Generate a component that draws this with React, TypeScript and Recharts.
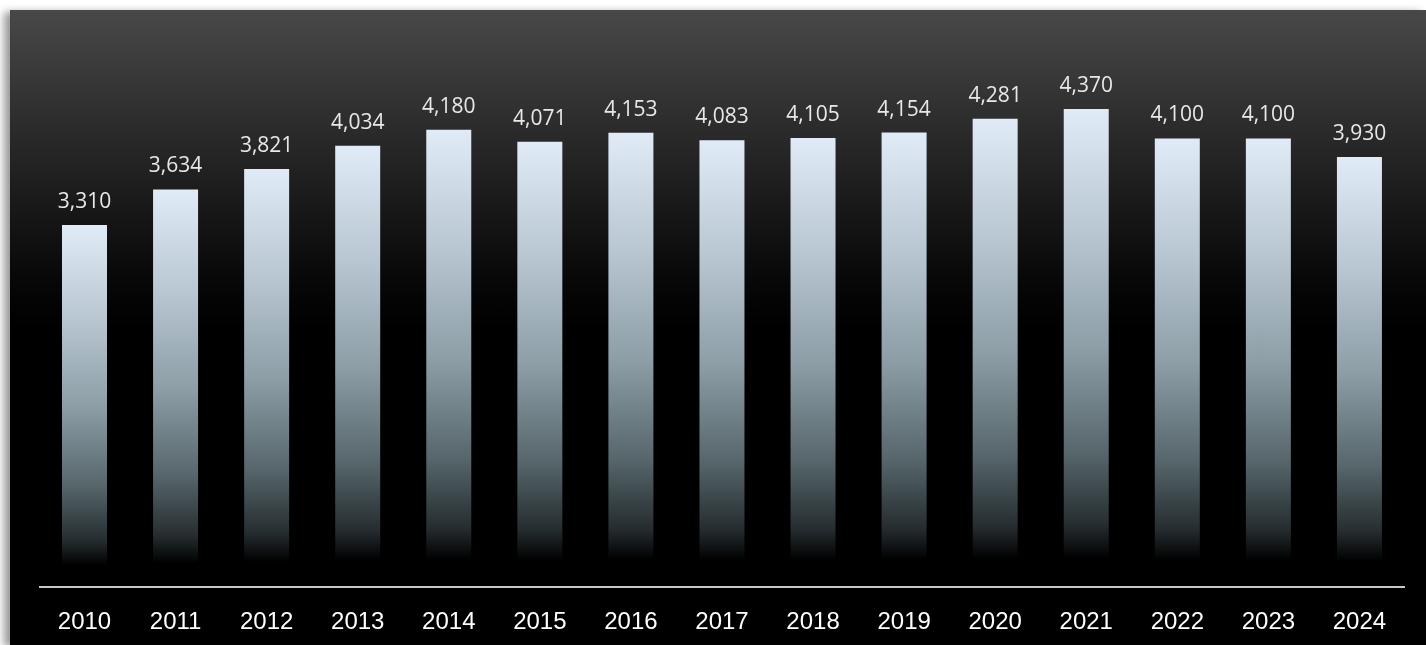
import { BarChart, Bar, XAxis, YAxis, LabelList } from 'recharts';

const years = ['2010', '2011', '2012', '2013', '2014', '2015', '2016', '2017', '2018', '2019', '2020', '2021', '2022', '2023', '2024'];
const values = [3310, 3634, 3821, 4034, 4180, 4071, 4153, 4083, 4105, 4154, 4281, 4370, 4100, 4100, 3930];

const data = years.map((year, i) => ({ year, value: values[i] }));

const fmt = (v: number) => v.toLocaleString('en-US');

export default function App() {
  return (
    <div
      style={{
        position: 'fixed',
        left: 10,
        top: 10,
        width: 1416,
        height: 635,
        background: 'linear-gradient(to bottom, #484848 0%, #262626 22%, #080808 42%, #000000 50%, #000000 100%)',
        boxShadow: '-6px 2px 8px rgba(0,0,0,0.4)',
      }}
    >
      <BarChart
        width={1416}
        height={635}
        data={data}
        margin={{ top: 30, right: 21, left: 29, bottom: 18 }}
      >
        <defs>
          <linearGradient id="barFill" x1="0" y1="0" x2="0" y2="1">
            <stop offset="0%" stopColor="#e0ebf7" />
            <stop offset="25%" stopColor="#bac8d3" />
            <stop offset="50%" stopColor="#8d9ea7" />
            <stop offset="72%" stopColor="#56666b" />
            <stop offset="87%" stopColor="#262d30" />
            <stop offset="94%" stopColor="#000000" />
            <stop offset="100%" stopColor="#000000" />
          </linearGradient>
        </defs>
        <XAxis
          dataKey="year"
          height={40}
          axisLine={{ stroke: '#c8c8c8', strokeWidth: 2 }}
          tickLine={false}
          tickSize={0}
          tickMargin={25}
          tick={{ fill: '#ffffff', fontSize: 24, fontFamily: 'Liberation Sans, Arial, sans-serif' }}
          interval={0}
        />
        <YAxis hide domain={[0, 5000]} />
        <Bar dataKey="value" fill="url(#barFill)" barSize={45} isAnimationActive={false}>
          <LabelList
            dataKey="value"
            position="top"
            offset={17}
            formatter={(v: any) => fmt(Number(v))}
            style={{ fill: '#e8e8e8', fontSize: 21, fontFamily: 'Open Sans, Noto Sans, sans-serif' }}
          />
        </Bar>
      </BarChart>
    </div>
  );
}
